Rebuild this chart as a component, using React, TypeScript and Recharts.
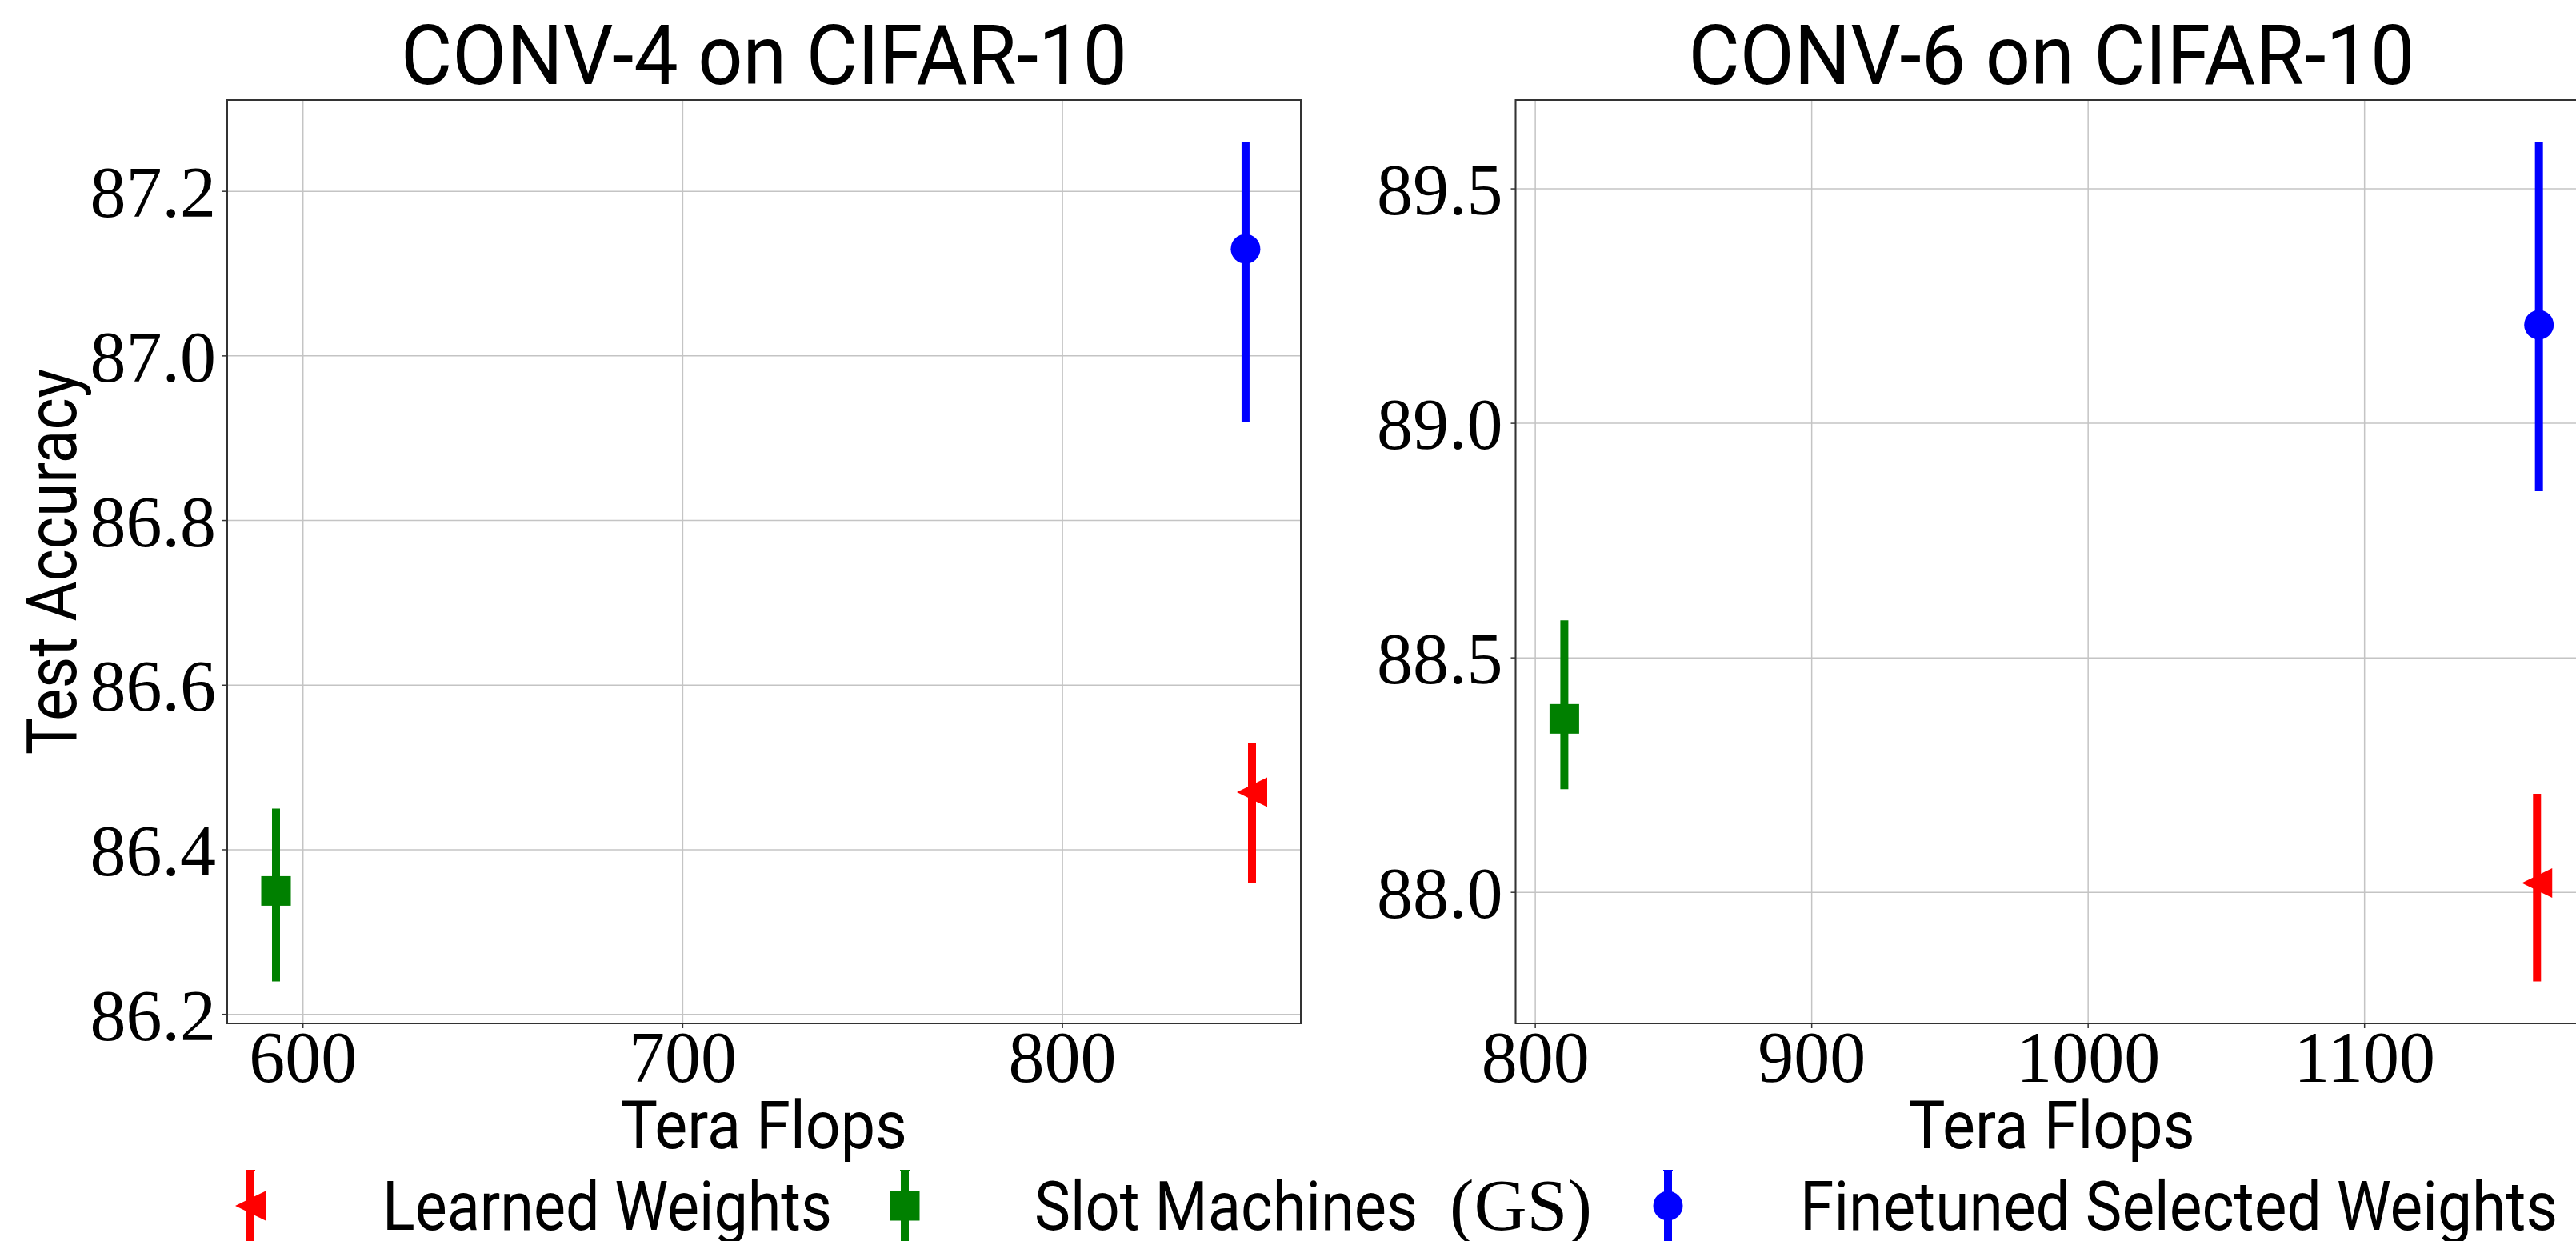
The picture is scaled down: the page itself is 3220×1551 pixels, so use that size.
import React from "react";
import * as R from "recharts";
import {
  ScatterChart,
  Scatter,
  XAxis,
  YAxis,
  CartesianGrid,
  ErrorBar,
  Legend,
} from "recharts";

// series shared by both panels
const methods = ["Learned Weights", "Slot Machines (GS)", "Finetuned Selected Weights"];
const colors = ["#ff0000", "#008000", "#0000ff"];

// CONV-4 on CIFAR-10
const conv4Flops = [849.9, 592.9, 848.2];
const conv4Acc = [86.47, 86.35, 87.13];
const conv4ErrLow = [0.11, 0.11, 0.21];
const conv4ErrHigh = [0.06, 0.1, 0.13];
const conv4XTicks = [600, 700, 800];
const conv4YTicks = [86.2, 86.4, 86.6, 86.8, 87.0, 87.2];

// CONV-6 on CIFAR-10
const conv6Flops = [1162.4, 810.5, 1163.1];
const conv6Acc = [88.02, 88.37, 89.21];
const conv6ErrLow = [0.21, 0.15, 0.355];
const conv6ErrHigh = [0.19, 0.21, 0.39];
const conv6XTicks = [800, 900, 1000, 1100];
const conv6YTicks = [88.0, 88.5, 89.0, 89.5];

const SANS = "Roboto, 'DejaVu Sans', sans-serif";
const SERIF = "'Liberation Serif', 'DejaVu Serif', serif";

// matplotlib-style 5% margins
const pad = (lo: number, hi: number): [number, number] => {
  const m = (hi - lo) * 0.05;
  return [lo - m, hi + m];
};

function Glyph({ kind, cx, cy, color }: { kind: number; cx: number; cy: number; color: string }) {
  if (kind === 0)
    return (
      <polygon
        points={`${cx - 19},${cy} ${cx + 19},${cy - 18.5} ${cx + 19},${cy + 18.5}`}
        fill={color}
      />
    );
  if (kind === 1) return <rect x={cx - 18.5} y={cy - 18.5} width={37} height={37} fill={color} />;
  return <circle cx={cx} cy={cy} r={18.5} fill={color} />;
}

const LegendRow = () => {
  const handleX = [313, 1131, 2085];
  const textX = [478, 1293, 2250];
  const textW = [562, 498, 947];
  return (
    <svg width={3220} height={111} style={{ display: "block", overflow: "visible" }}>
      {methods.map((m, i) => (
        <g key={m}>
          <line x1={handleX[i]} x2={handleX[i]} y1={22} y2={112} stroke={colors[i]} strokeWidth={10} />
          <line x1={handleX[i] - 6} x2={handleX[i] + 6} y1={23} y2={23} stroke={colors[i]} strokeWidth={2} />
          <Glyph kind={i} cx={handleX[i]} cy={67} color={colors[i]} />
          {i === 1 ? (
            <text y={97} fill="#000">
              <tspan x={textX[i]} fontFamily={SANS} fontSize={86} textLength={textW[i]} lengthAdjust="spacingAndGlyphs">
                {"Slot Machines "}
              </tspan>
              <tspan x={1812} fontFamily={SERIF} fontSize={92} textLength={178} lengthAdjust="spacingAndGlyphs">
                (GS)
              </tspan>
            </text>
          ) : (
            <text
              x={textX[i]}
              y={97}
              fontFamily={SANS}
              fontSize={86}
              fill="#000"
              textLength={textW[i]}
              lengthAdjust="spacingAndGlyphs"
            >
              {m}
            </text>
          )}
        </g>
      ))}
    </svg>
  );
};

// axes frame + title, placed from the chart's plot area
function FrameAndTitle({ title, fallback }: { title: string; fallback: { x: number; y: number; width: number; height: number } }) {
  const hook: any = (R as any).usePlotArea;
  const area = (hook ? hook() : null) || fallback;
  return (
    <g>
      <rect x={area.x} y={area.y} width={area.width} height={area.height} fill="none" stroke="#333" strokeWidth={2} />
      <text
        x={area.x + area.width / 2}
        y={area.y - 20}
        textAnchor="middle"
        fontFamily={SANS}
        fontSize={103}
        fill="#000"
        textLength={908}
        lengthAdjust="spacingAndGlyphs"
      >
        {title}
      </text>
    </g>
  );
}

type PanelProps = {
  title: string;
  flops: number[];
  acc: number[];
  errLow: number[];
  errHigh: number[];
  xTicks: number[];
  yTicks: number[];
  width: number;
  margin: { top: number; right: number; bottom: number; left: number };
  yAxisWidth: number;
  yTickMargin: number;
  showYLabel?: boolean;
  showLegend?: boolean;
};

function Panel(p: PanelProps) {
  const series = methods.map((name, i) => ({
    name,
    color: colors[i],
    data: [{ x: p.flops[i], y: p.acc[i], err: [p.errLow[i], p.errHigh[i]] }],
  }));
  const xDomain = pad(Math.min(...p.flops), Math.max(...p.flops));
  const yDomain = pad(
    Math.min(...p.acc.map((a, i) => a - p.errLow[i])),
    Math.max(...p.acc.map((a, i) => a + p.errHigh[i]))
  );
  const plotX = p.margin.left + p.yAxisWidth;
  const fallback = {
    x: plotX,
    y: p.margin.top,
    width: p.width - p.margin.right - plotX,
    height: 1551 - p.margin.top - p.margin.bottom - 160,
  };

  const xLabel = (props: any) => {
    const vb = props.viewBox || {};
    return (
      <text
        x={vb.x + vb.width / 2}
        y={vb.y + 156}
        textAnchor="middle"
        fontFamily={SANS}
        fontSize={83}
        fill="#000"
        textLength={358}
        lengthAdjust="spacingAndGlyphs"
      >
        Tera Flops
      </text>
    );
  };

  const yLabel = (props: any) => {
    const vb = props.viewBox || {};
    const cx = 95;
    const cy = vb.y + vb.height / 2;
    return (
      <text
        x={cx}
        y={cy}
        transform={`rotate(-90, ${cx}, ${cy})`}
        textAnchor="middle"
        fontFamily={SANS}
        fontSize={87}
        fill="#000"
        textLength={482}
        lengthAdjust="spacingAndGlyphs"
      >
        Test Accuracy
      </text>
    );
  };

  return (
    <ScatterChart width={p.width} height={1551} margin={p.margin}>
      <CartesianGrid stroke="#c4c4c4" strokeWidth={1.5} />
      <XAxis
        type="number"
        dataKey="x"
        domain={xDomain}
        ticks={p.xTicks}
        allowDataOverflow
        interval={0}
        height={160}
        axisLine={false}
        tickLine={{ stroke: "#333", strokeWidth: 1.5 }}
        tickSize={6}
        tickMargin={3}
        tick={{ fontFamily: SERIF, fontSize: 90, fill: "#000" }}
        label={xLabel}
      />
      <YAxis
        type="number"
        dataKey="y"
        domain={yDomain}
        ticks={p.yTicks}
        allowDataOverflow
        interval={0}
        width={p.yAxisWidth}
        axisLine={false}
        tickLine={{ stroke: "#333", strokeWidth: 1.5 }}
        tickSize={6}
        tickMargin={p.yTickMargin}
        tick={{ fontFamily: SERIF, fontSize: 90, fill: "#000" }}
        tickFormatter={(v: number) => v.toFixed(1)}
        label={p.showYLabel ? yLabel : undefined}
      />
      <FrameAndTitle title={p.title} fallback={fallback} />
      {series.map((s, i) => (
        <Scatter
          key={s.name}
          name={s.name}
          data={s.data}
          fill={s.color}
          isAnimationActive={false}
          shape={(props: any) => <Glyph kind={i} cx={props.cx} cy={props.cy} color={s.color} />}
        >
          <ErrorBar
            dataKey="err"
            direction="y"
            width={0}
            strokeWidth={10}
            stroke={s.color}
            isAnimationActive={false}
          />
        </Scatter>
      ))}
      {p.showLegend && (
        <Legend
          layout="horizontal"
          align="center"
          verticalAlign="middle"
          wrapperStyle={{ left: 0, top: 1440, width: 3220, height: 111 }}
          content={() => <LegendRow />}
        />
      )}
    </ScatterChart>
  );
}

export default function App() {
  return (
    <div
      style={{
        position: "fixed",
        left: 0,
        top: 0,
        width: 3220,
        height: 1551,
        overflow: "hidden",
        background: "#fff",
      }}
    >
      <div style={{ position: "absolute", left: 0, top: 0 }}>
        <Panel
          title="CONV-4 on CIFAR-10"
          flops={conv4Flops}
          acc={conv4Acc}
          errLow={conv4ErrLow}
          errHigh={conv4ErrHigh}
          xTicks={conv4XTicks}
          yTicks={conv4YTicks}
          width={1760}
          margin={{ top: 125, right: 134, bottom: 112, left: 84 }}
          yAxisWidth={200}
          yTickMargin={8}
          showYLabel
          showLegend
        />
      </div>
      <div style={{ position: "absolute", left: 1700, top: 0 }}>
        <Panel
          title="CONV-6 on CIFAR-10"
          flops={conv6Flops}
          acc={conv6Acc}
          errLow={conv6ErrLow}
          errHigh={conv6ErrHigh}
          xTicks={conv6XTicks}
          yTicks={conv6YTicks}
          width={1640}
          margin={{ top: 125, right: 105.4, bottom: 112, left: 44.5 }}
          yAxisWidth={150}
          yTickMargin={10}
        />
      </div>
    </div>
  );
}
